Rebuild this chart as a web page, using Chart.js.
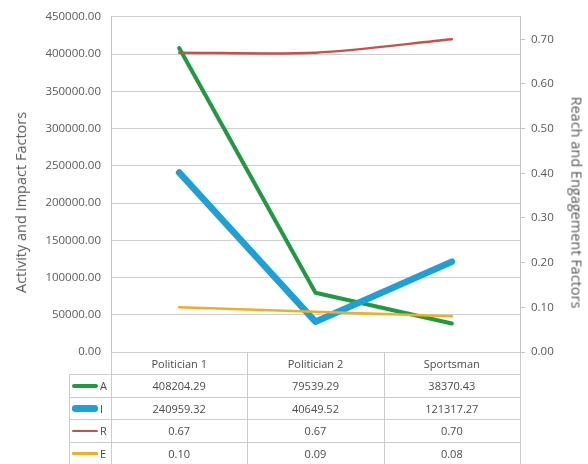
<!DOCTYPE html>
<html>
<head>
<meta charset="utf-8">
<script src="https://cdn.jsdelivr.net/npm/chart.js@4.4.1/dist/chart.umd.min.js"></script>
<style>
  html, body { margin: 0; padding: 0; background: #ffffff; }
  #wrap { position: relative; width: 588px; height: 464px; overflow: hidden; font-family: "Open Sans", "Liberation Sans", sans-serif; }
  #c { position: absolute; left: 0; top: 0; }
  .ttl { position: absolute; font-size: 14.5px; font-weight: 400; color: #5a5a5a; white-space: nowrap; }
  .hl, .vl { position: absolute; background: #cccccc; }
  .cell { position: absolute; text-align: center; font-size: 11px; color: #4a4a4a; white-space: nowrap; }
  .key { position: absolute; }
  .ltr { position: absolute; font-size: 11px; color: #4a4a4a; }
</style>
</head>
<body>
<div id="wrap">
  <canvas id="c" width="588" height="464"></canvas>
</div>
<script>
// ---- data ----
const categories = ['Politician 1', 'Politician 2', 'Sportsman'];
const seriesNames = ['A', 'I', 'R', 'E'];
const seriesA = [408204.29, 79539.29, 38370.43];
const seriesI = [240959.32, 40649.52, 121317.27];
const seriesR = [0.67, 0.67, 0.70];
const seriesE = [0.10, 0.09, 0.08];
const leftTicks = [0, 50000, 100000, 150000, 200000, 250000, 300000, 350000, 400000, 450000];
const rightTicks = [0, 0.1, 0.2, 0.3, 0.4, 0.5, 0.6, 0.7];
const leftTitle = 'Activity and Impact Factors';
const rightTitle = 'Reach and Engagement Factors';

// ---- styles ----
const colors = { A: '#1e9a40', I: '#1ca0d8', R: '#c5514f', E: '#f0ae22' };
const widths = { A: 4, I: 6.5, R: 2.5, E: 2.5 };
const tickFont = { family: '"Open Sans", "Liberation Sans", sans-serif', size: 11.5 };
const tickColor = '#595959';

const values = { A: seriesA, I: seriesI, R: seriesR, E: seriesE };
const axisOf = { A: 'y', I: 'y', R: 'y1', E: 'y1' };
const drawOrder = { A: 4, I: 3, R: 2, E: 1 };
const tensionOf = { A: 0, I: 0, R: 0.3, E: 0 };

const datasets = seriesNames.map(n => ({
  label: n,
  data: values[n],
  yAxisID: axisOf[n],
  borderColor: colors[n],
  backgroundColor: colors[n],
  borderWidth: widths[n],
  borderCapStyle: 'round',
  borderJoinStyle: 'round',
  pointRadius: 0,
  pointHoverRadius: 0,
  tension: tensionOf[n],
  fill: false,
  order: drawOrder[n]
}));

const chart = new Chart(document.getElementById('c'), {
  type: 'line',
  data: { labels: categories, datasets },
  options: {
    responsive: false,
    animation: false,
    events: [],
    layout: { padding: { top: 16, bottom: 112, left: 0, right: 0 } },
    plugins: { legend: { display: false }, tooltip: { enabled: false } },
    scales: {
      x: {
        type: 'category',
        offset: true,
        display: false
      },
      y: {
        position: 'left',
        min: 0, max: 450000,
        afterBuildTicks: s => { s.ticks = leftTicks.map(v => ({ value: v })); },
        afterFit: s => { s.width = 111; },
        ticks: {
          font: tickFont, color: tickColor, padding: 10,
          callback: v => Number(v).toFixed(2)
        },
        grid: { color: '#d0d0d0', lineWidth: 1, drawTicks: false },
        border: { display: true, color: '#c4c4c4' }
      },
      y1: {
        position: 'right',
        min: 0, max: 0.75,
        afterBuildTicks: s => { s.ticks = rightTicks.map(v => ({ value: v })); },
        afterFit: s => { s.width = 68; },
        ticks: {
          font: tickFont, color: tickColor, padding: 6,
          callback: v => Number(v).toFixed(2)
        },
        grid: { drawOnChartArea: false, drawTicks: true, tickLength: 5, color: '#c4c4c4' },
        border: { display: true, color: '#c4c4c4' }
      }
    }
  }
});

// ---- data table + axis titles (HTML text positioned from the chart's scales) ----
(function buildTable() {
  const wrap = document.getElementById('wrap');
  const area = chart.chartArea;
  const xs = chart.scales.x;
  const colW = (area.right - area.left) / categories.length;
  const rowH = (464 - area.bottom) / 5;
  const keyLeft = 69;

  function add(cls, css, text) {
    const d = document.createElement('div');
    d.className = cls;
    Object.assign(d.style, css);
    if (text !== undefined) d.textContent = text;
    wrap.appendChild(d);
    return d;
  }

  const rowTop = r => Math.round(area.bottom + r * rowH);

  for (let r = 1; r <= 5; r++) {
    add('hl', { left: keyLeft + 'px', top: rowTop(r) + 'px', width: (area.right - keyLeft + 1) + 'px', height: '1px' });
  }
  for (let i = 0; i <= categories.length; i++) {
    const x = Math.round(xs.getPixelForValue(0) - colW / 2 + i * colW);
    add('vl', { left: x + 'px', top: area.bottom + 'px', width: '1px', height: (464 - area.bottom) + 'px' });
  }
  add('vl', { left: keyLeft + 'px', top: rowTop(1) + 'px', width: '1px', height: (464 - rowTop(1)) + 'px' });

  categories.forEach((c, i) => {
    const cx = xs.getPixelForValue(i);
    add('cell', { left: (cx - colW / 2) + 'px', top: rowTop(0) + 'px', width: colW + 'px', height: rowH + 'px', lineHeight: (rowH + 1) + 'px' }, c);
  });

  seriesNames.forEach((n, r) => {
    const top = rowTop(r + 1);
    const h = rowTop(r + 2) - top;
    const cy = top + h / 2;
    const w = widths[n];
    add('key', { left: '72px', top: (cy - w / 2 + 0.5) + 'px', width: '26px', height: w + 'px', background: colors[n], borderRadius: (w / 2) + 'px' });
    add('ltr', { left: '100px', top: top + 'px', height: h + 'px', lineHeight: (h + 1) + 'px' }, n);
    values[n].forEach((v, i) => {
      const cx = xs.getPixelForValue(i);
      add('cell', { left: (cx - colW / 2) + 'px', top: top + 'px', width: colW + 'px', height: h + 'px', lineHeight: (h + 1) + 'px' }, v.toFixed(2));
    });
  });

  const midY = (area.top + area.bottom) / 2 + 18;
  const lt = add('ttl', {}, leftTitle);
  lt.style.left = (20 - lt.offsetWidth / 2) + 'px';
  lt.style.top = (midY - lt.offsetHeight / 2) + 'px';
  lt.style.transform = 'rotate(-90deg)';
  const rt = add('ttl', {}, rightTitle);
  rt.style.left = (577 - rt.offsetWidth / 2) + 'px';
  rt.style.top = (midY - rt.offsetHeight / 2) + 'px';
  rt.style.transform = 'rotate(90deg)';
})();
</script>
</body>
</html>
